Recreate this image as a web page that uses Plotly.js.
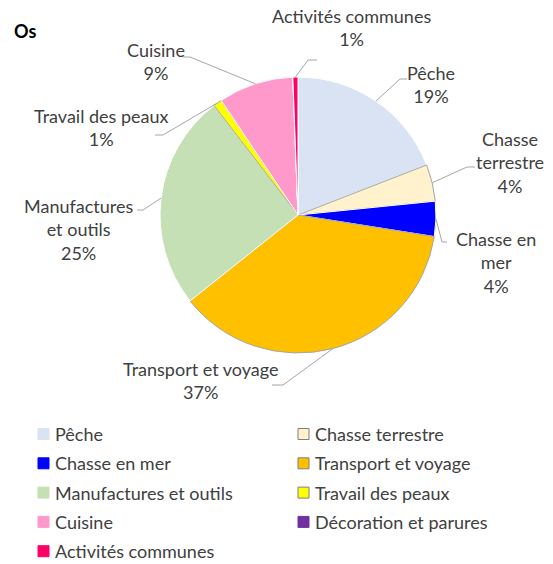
<!DOCTYPE html>
<html><head><meta charset="utf-8">
<script src="https://cdn.plot.ly/plotly-3.0.1.min.js"></script>
<style>html,body{margin:0;padding:0;background:#fff}#chart{width:553px;height:564px}</style>
</head><body><div id="chart"></div>
<script>
// ---- data ----
const categories = ['Pêche','Chasse terrestre','Chasse en mer','Transport et voyage','Manufactures et outils','Travail des peaux','Cuisine','Décoration et parures','Activités communes'];
const values = [19.1, 4.3, 4.1, 36.8, 25.3, 1.0, 8.8, 0, 0.6];
const chartTitle = 'Os';

// ---- styles ----
const colors = ['#dae3f3','#fff2cc','#0000ff','#ffc000','#c5e0b4','#ffff00','#ff99cc','#7030a0','#ff0066'];
const lineColors = ['#ffffff','#a6a6a6','#ffffff','#a6a6a6','#ffffff','#a6a6a6','#ffffff','#ffffff','#ffffff'];
const W = 553, H = 564;
const CX = 298, CY = 215, R = 138;
const FONT = 'Lato, sans-serif';
const FS = 18;
const TXT = '#404040';
const LEAD = '#a6a6a6';
// label placement (pixel layout): text block centre, elbow point, end point
const labelLayout = {
  'Pêche': {c:[431,85], e:[400,79], t:[407,79]},
  'Chasse terrestre': {c:[510,162], e:[467,167], t:[475,167]},
  'Chasse en mer': {c:[496,262], e:[442,242], t:[447,242]},
  'Transport et voyage': {c:[201,380], e:[283,385], t:[272,385]},
  'Manufactures et outils': {c:[78,229], e:[143,210], t:[137,210]},
  'Travail des peaux': {c:[101,127], e:[163,135], t:[155,135]},
  'Cuisine': {c:[156,62], e:[190,57], t:[183,57]},
  'Activités communes': {c:[351,28], e:[308,60], t:[317,60]}
};
const labelText = {
  'Chasse terrestre': 'Chasse<br>terrestre',
  'Chasse en mer': 'Chasse en<br>mer',
  'Manufactures et outils': 'Manufactures<br>et outils'
};
const legendCols = [38, 298], legendRow0 = 434, legendDy = 29.3, legendBox = 11, legendTextDx = 15;

const px = x => x / W, py = y => 1 - y / H;

const total = values.reduce((a,b)=>a+b,0);
const annotations = [];
const shapes = [];
let cum = 0;
values.forEach((v,i) => {
  const name = categories[i];
  const mid = (cum + v/2) / total;
  cum += v;
  const L = labelLayout[name];
  if (!L || v <= 0) return;
  const ang = mid * 2 * Math.PI;
  const sx = CX + R*Math.sin(ang), sy = CY - R*Math.cos(ang);
  shapes.push({type:'path', xref:'paper', yref:'paper',
    path:`M ${px(sx)} ${py(sy)} L ${px(L.e[0])} ${py(L.e[1])} L ${px(L.t[0])} ${py(L.t[1])}`,
    line:{color:LEAD, width:1}});
  const pct = Math.round(v/total*100) + '%';
  annotations.push({xref:'paper', yref:'paper', x:px(L.c[0]), y:py(L.c[1]),
    xanchor:'center', yanchor:'middle', showarrow:false, align:'center',
    text:(labelText[name]||name) + '<br>' + pct, font:{family:FONT, size:FS, color:TXT}});
});

// legend (built from categories / colors)
categories.forEach((name,i) => {
  const col = i % 2, row = Math.floor(i/2);
  const x0 = legendCols[col], yc = legendRow0 + row*legendDy;
  shapes.push({type:'rect', xref:'paper', yref:'paper',
    x0:px(x0), x1:px(x0+legendBox), y0:py(yc+legendBox/2), y1:py(yc-legendBox/2),
    fillcolor:colors[i], line:{color:lineColors[i]==='#ffffff'?colors[i]:'#7f7f7f', width:1}});
  annotations.push({xref:'paper', yref:'paper', x:px(x0+legendTextDx), y:py(yc),
    xanchor:'left', yanchor:'middle', showarrow:false, text:name,
    font:{family:FONT, size:FS, color:TXT}});
});

const trace = {
  type:'pie', labels:categories, values:values, sort:false, direction:'clockwise', rotation:0,
  marker:{colors:colors, line:{color:lineColors, width:1}},
  textinfo:'none', hoverinfo:'skip', showlegend:false,
  domain:{x:[px(CX-R), px(CX+R)], y:[py(CY+R), py(CY-R)]}
};

const layout = {
  width:W, height:H, margin:{l:0,r:0,t:0,b:0},
  paper_bgcolor:'#ffffff', plot_bgcolor:'#ffffff', showlegend:false,
  title:{text:'<b>'+chartTitle+'</b>', x:px(14), xanchor:'left', xref:'paper', y:py(32), yanchor:'middle', yref:'paper',
    font:{family:FONT, size:18, color:'#000000'}},
  annotations:annotations, shapes:shapes
};
Plotly.newPlot('chart', [trace], layout, {displayModeBar:false, staticPlot:true});
</script></body></html>
